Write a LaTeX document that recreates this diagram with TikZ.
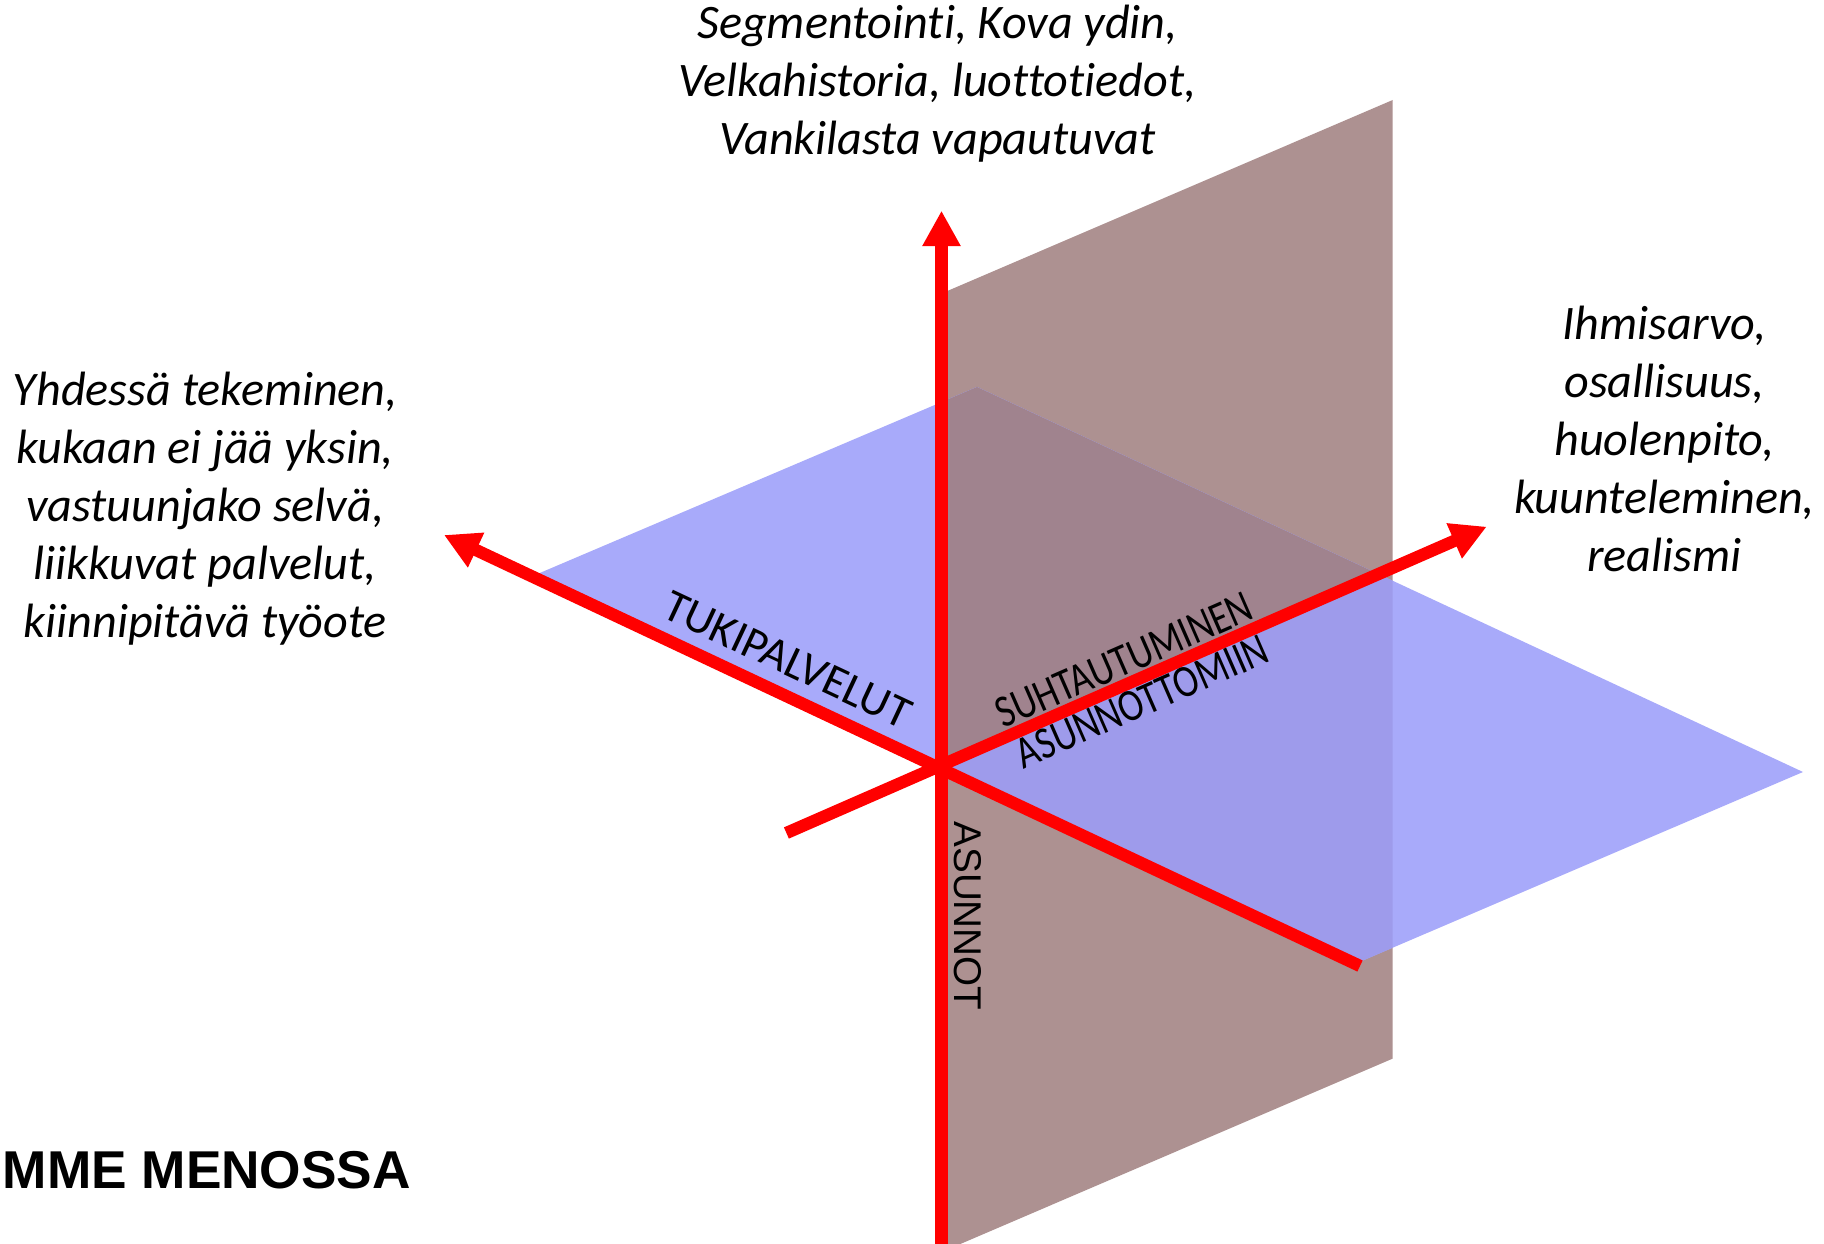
\documentclass[tikz,border=0pt]{standalone}
\usepackage{fontspec}
\setmainfont{Carlito}[Ligatures=NoCommon]
\newfontfamily\narrowfont{Carlito}[FakeStretch=0.82]
\newfontfamily\arialfont{Liberation Sans}
\usetikzlibrary{arrows.meta,calc}

\definecolor{planebrown}{RGB}{173,145,145}
\definecolor{planeblue}{RGB}{168,170,250}
\definecolor{bluefront}{RGB}{158,155,235}
\definecolor{brownfront}{RGB}{160,131,142}

\begin{document}
\begin{tikzpicture}[
    axis/.style={red,line width=3.5pt},
    axisarrow/.style={axis,-{Triangle[length=3.55mm,width=3.6mm]}},
    axislabel/.style={font=\fontsize{13}{16}\selectfont,inner sep=0pt},
    narrowlabel/.style={font=\narrowfont\fontsize{13}{16}\selectfont,inner sep=0pt},
    words/.style={font=\fontsize{13.7}{16.5}\selectfont\itshape,align=center,inner sep=0pt}
  ]
  \useasboundingbox (0,0) rectangle (18.24,12.44);
  % axes
  \coordinate (O) at (9.415,4.755);
  \coordinate (Vtop) at (9.415,10.333);
  \coordinate (Vbot) at (9.415,-0.1);
  \coordinate (Ltip) at (4.44,7.09);
  \coordinate (Lend) at (13.60,2.78);
  \coordinate (Rtip) at (14.867,7.173);
  \coordinate (Rend) at (7.864,4.11);
  % planes
  \coordinate (b1) at (9.415,9.505);
  \coordinate (b2) at (13.927,11.44);
  \coordinate (b3) at (13.927,1.854);
  \coordinate (b4) at (9.415,-0.081);
  \coordinate (p1) at (5.386,6.705);
  \coordinate (p2) at (9.77,8.57);
  \coordinate (p3) at (18.03,4.72);
  \coordinate (p4) at (13.617,2.83);
  \fill[planebrown] (b1) -- (b2) -- (b3) -- (b4) -- cycle;
  \fill[planeblue] (p1) -- (p2) -- (p3) -- (p4) -- cycle;
  \begin{scope}
    \clip (b1) -- (b2) -- (b3) -- (b4) -- cycle;
    \fill[bluefront] (p1) -- (p2) -- (p3) -- (p4) -- cycle;
    % brown in front above the cut
    \clip (O) -- ($(O)!2!(Rtip)$) -- ++(0,5) -| (O);
    \fill[brownfront] (p1) -- (p2) -- (p3) -- (p4) -- cycle;
  \end{scope}
  \draw[axisarrow] (Lend) -- (Ltip);
  \draw[axisarrow] (Rend) -- (Rtip);
  \draw[axisarrow] (Vbot) -- (Vtop);
  % labels on the axes
  \node[axislabel,rotate=-25.1] (tuki) at (7.875,5.84) {TUKIPALVELUT};
  \node[narrowlabel,rotate=23.6] (suht) at (11.24,5.84) {SUHTAUTUMINEN};
  \node[narrowlabel,rotate=23.6] (asunt) at (11.42,5.425) {ASUNNOTTOMIIN};
  \node[inner sep=0pt,font=\arialfont\fontsize{11}{13}\selectfont,rotate=-90] (asunnot) at (9.68,3.28) {ASUNNOT};
  % texts
  \node[words] (ylos) at (9.376,11.60) {Segmentointi, Kova ydin,\\Velkahistoria, luottotiedot,\\Vankilasta vapautuvat};
  \node[words] (vasen) at (2.053,7.35) {Yhdessä tekeminen,\\kukaan ei jää yksin,\\vastuunjako selvä,\\liikkuvat palvelut,\\kiinnipitävä työote};
  \node[words] (oikea) at (16.645,8.054) {Ihmisarvo,\\osallisuus,\\huolenpito,\\kuunteleminen,\\realismi};
  \node[font=\arialfont\bfseries\fontsize{15.15}{18}\selectfont,anchor=base west,inner sep=0pt] (otsikko) at (0.02,0.55) {MME MENOSSA};
\end{tikzpicture}
\end{document}
